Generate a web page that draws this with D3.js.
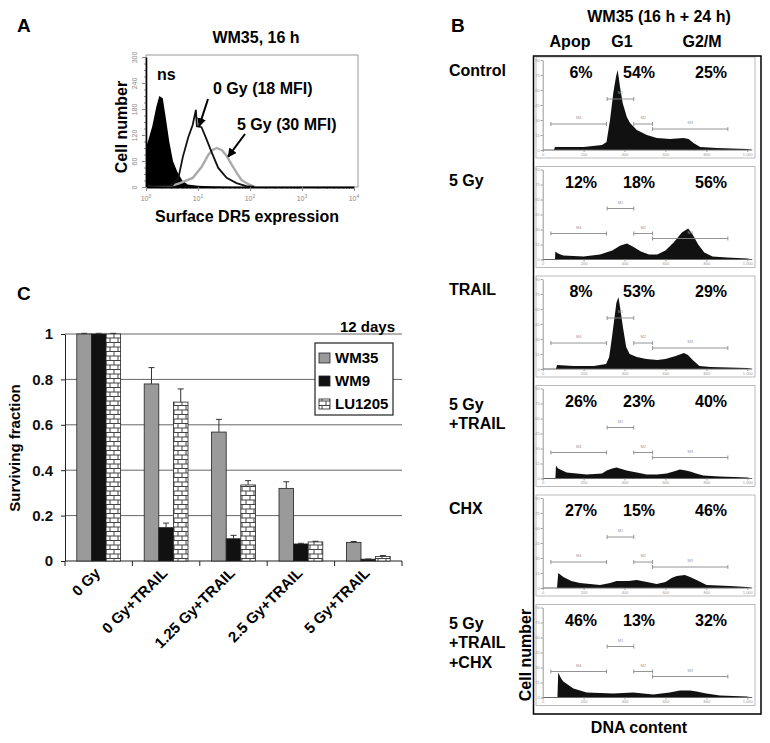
<!DOCTYPE html>
<html lang="en">
<head>
  <meta charset="UTF-8" />
  <title>WM35: DR5, cell cycle and survival</title>
  <style>
    body { margin: 0; background: #fff; }
    svg {
      display: block;
      font-family: "Liberation Sans", Arial, Helvetica, sans-serif;
      font-weight: bold;
    }
    .tiny { font-size: 4px; fill: #999; font-weight: normal; }
  </style>
  <script src="https://d3js.org/d3.v7.min.js"></script>
</head>
<body>
  <svg id="fig" width="770" height="743"></svg>

  <script>
    // ---------- Panel A: surface DR5 flow histograms [intensity, cell count] ----------
    const aTitle = "WM35, 16 h";
    const aDecades = [1, 10, 100, 1000, 10000];
    const aYTicks = [0, 60, 120, 180, 240, 300];
    const aNs = [[1, 92], [1.12, 110], [1.32, 140], [1.58, 185], [1.8, 210], [2.1, 205], [2.4, 160],
                 [2.8, 105], [3.3, 60], [4, 35], [5, 15], [6.3, 6], [10, 3], [20, 1], [40, 0]];
    const aGy0 = [[1, 2], [2, 3], [3.2, 4], [4.2, 21], [5.1, 69], [6.5, 115], [7.9, 143], [9.1, 178],
                  [9.5, 140], [11.7, 138], [14.8, 108], [18.6, 78], [24.5, 44], [35.5, 21], [55, 9],
                  [85, 2], [120, 0]];
    const aGy5 = [[1, 1], [3, 2], [4.5, 9], [7.9, 21], [11.7, 46], [15.8, 74], [18.6, 85], [22.9, 90],
                  [28.8, 85], [35.5, 72], [44.7, 51], [56, 32], [69, 16], [91, 7], [126, 0]];

    // ---------- Panel B: DNA content histograms [channel, count] ----------
    const bTitle = "WM35 (16 h + 24 h)";
    const bPhases = ["Apop", "G1", "G2/M"];
    const bSamples = [["Control"], ["5 Gy"], ["TRAIL"], ["5 Gy", "+TRAIL"], ["CHX"], ["5 Gy", "+TRAIL", "+CHX"]];
    const bApop = [6, 12, 8, 26, 27, 46];
    const bG1 = [54, 18, 53, 23, 15, 13];
    const bG2M = [25, 56, 29, 40, 46, 32];
    const bGates = [["M4", 40, 312], ["M1", 315, 445], ["M2", 445, 537], ["M3", 537, 905]];
    const bDnaTicks = [0, 200, 400, 600, 800, 1000];
    const bCountTicks = [0, 15, 30, 45, 60, 75, 90];
    const bControl = [[55, 0], [60, 3], [200, 3], [290, 5], [312, 8], [329, 30], [345, 57], [358, 73], [366, 80],
                      [372, 72], [378, 63], [391, 47], [411, 33], [427, 27], [460, 20], [509, 15], [558, 12],
                      [623, 11], [688, 12], [713, 11], [737, 7], [770, 3], [851, 2], [1000, 1], [1024, 0]];
    const b5Gy = [[60, 0], [62, 8], [75, 6], [100, 4], [200, 3], [280, 5], [340, 9], [380, 14], [412, 16],
                  [440, 13], [480, 8], [520, 5], [560, 5], [600, 9], [640, 17], [680, 27], [711, 31],
                  [730, 26], [760, 15], [790, 7], [830, 3], [900, 2], [1000, 1], [1024, 0]];
    const bTrail = [[65, 0], [70, 4], [150, 3], [250, 3], [310, 5], [325, 12], [338, 31], [350, 50], [360, 66],
                    [370, 72], [378, 62], [392, 42], [408, 22], [425, 15], [460, 12], [506, 10], [560, 9],
                    [600, 10], [650, 13], [690, 16], [710, 14], [733, 9], [766, 3], [820, 2], [1000, 1], [1024, 0]];
    const b5GyTrail = [[62, 0], [65, 13], [75, 10], [117, 6], [215, 4], [290, 5], [313, 8], [340, 10], [361, 11],
                       [410, 8], [460, 6], [508, 4], [560, 4], [606, 5], [640, 7], [671, 9], [700, 8], [720, 7],
                       [750, 5], [785, 3], [866, 2], [1000, 1], [1024, 0]];
    const bChx = [[70, 0], [76, 15], [101, 11], [140, 7], [182, 5], [280, 3], [330, 5], [361, 7], [420, 7],
                  [459, 8], [510, 6], [557, 4], [600, 6], [630, 10], [655, 12], [695, 13], [720, 11],
                  [752, 8], [801, 3], [915, 2], [1000, 1], [1024, 0]];
    const b5GyTrailChx = [[72, 0], [76, 25], [90, 19], [101, 16], [150, 9], [215, 5], [345, 4], [443, 5],
                          [540, 3], [620, 5], [671, 7], [720, 7], [752, 6], [800, 4], [866, 2], [997, 1], [1024, 0]];
    const bHists = [bControl, b5Gy, bTrail, b5GyTrail, bChx, b5GyTrailChx];

    // ---------- Panel C: clonogenic survival ----------
    const cCategories = ["0 Gy", "0 Gy+TRAIL", "1.25 Gy+TRAIL", "2.5 Gy+TRAIL", "5 Gy+TRAIL"];
    const cSeries = ["WM35", "WM9", "LU1205"];
    const cWM35 = [1, 0.78, 0.568, 0.32, 0.082];
    const cWM9 = [1, 0.147, 0.098, 0.075, 0.008];
    const cLU1205 = [1, 0.70, 0.335, 0.084, 0.020];
    const cWM35Err = [0.003, 0.072, 0.056, 0.029, 0.004];
    const cWM9Err = [0.003, 0.02, 0.015, 0.003, 0.001];
    const cLU1205Err = [0.003, 0.058, 0.019, 0.003, 0.004];
    const cYTicks = [0, 0.2, 0.4, 0.6, 0.8, 1];

    const svg = d3.select("#fig");
    svg.append("rect").attr("width", 770).attr("height", 743).attr("fill", "#fff");
    const defs = svg.append("defs");

    // brick fill for LU1205
    const brick = defs.append("pattern").attr("id", "brick")
      .attr("patternUnits", "userSpaceOnUse").attr("width", 8).attr("height", 9);
    brick.append("rect").attr("width", 8).attr("height", 9).attr("fill", "#fff");
    brick.append("path").attr("d", "M0,0.5H8M0,5H8M2,0.5V5M6,5V9")
      .attr("stroke", "#444").attr("stroke-width", 1).attr("fill", "none");

    defs.append("marker").attr("id", "arrow")
      .attr("viewBox", "0 0 10 10").attr("refX", 9).attr("refY", 5)
      .attr("markerWidth", 4.5).attr("markerHeight", 4.5).attr("orient", "auto")
      .append("path").attr("d", "M0,0L10,5L0,10z").attr("fill", "#000");

    // panel letters
    svg.append("text").attr("x", 17).attr("y", 32).attr("font-size", 19).text("A");
    svg.append("text").attr("x", 451).attr("y", 32).attr("font-size", 19).text("B");
    svg.append("text").attr("x", 17).attr("y", 300).attr("font-size", 19).text("C");

    // =================== A ===================
    const ax = d3.scaleLog().domain([1, 1e4]).range([146, 354]);
    const ay = d3.scaleLinear().domain([0, 300]).range([187, 57]);
    const gA = svg.append("g");

    gA.append("rect").attr("x", 146).attr("y", 55).attr("width", 212).attr("height", 132)
      .attr("fill", "none").attr("stroke", "#999").attr("stroke-width", 1);

    gA.append("path").datum(aNs)
      .attr("d", d3.area().x(d => ax(d[0])).y0(ay(0)).y1(d => ay(d[1])))
      .attr("fill", "#000");
    gA.append("path").datum(aGy5)
      .attr("d", d3.line().x(d => ax(d[0])).y(d => ay(d[1])))
      .attr("fill", "none").attr("stroke", "#aaa").attr("stroke-width", 2.4);
    gA.append("path").datum(aGy0)
      .attr("d", d3.line().x(d => ax(d[0])).y(d => ay(d[1])))
      .attr("fill", "none").attr("stroke", "#111").attr("stroke-width", 1.8);

    // minor ticks
    gA.append("g").attr("transform", "translate(146,0)")
      .call(d3.axisLeft(ay).tickValues(d3.range(0, 301, 15)).tickSize(2).tickSizeOuter(0).tickFormat(""))
      .call(g => g.select(".domain").remove())
      .call(g => g.selectAll("line").attr("stroke", "#888"));
    const yA = gA.append("g").attr("transform", "translate(146,0)")
      .call(d3.axisLeft(ay).tickValues(aYTicks).tickSize(4).tickSizeOuter(0));
    yA.select(".domain").attr("stroke", "#000").attr("stroke-width", 1.6);
    yA.selectAll("line").attr("stroke", "#888");
    yA.selectAll("text")
      .attr("x", 0).attr("y", 0).attr("dy", 0)
      .attr("transform", "translate(-9,0) rotate(-90)")
      .attr("text-anchor", "middle")
      .attr("font-size", 7).attr("font-weight", "normal").attr("fill", "#888");

    const minorX = [];
    aDecades.slice(0, -1).forEach(p => d3.range(2, 10).forEach(k => minorX.push(p * k)));
    gA.append("g").attr("transform", "translate(0,187)")
      .call(d3.axisBottom(ax).tickValues(minorX).tickSize(2).tickSizeOuter(0).tickFormat(""))
      .call(g => g.select(".domain").remove())
      .call(g => g.selectAll("line").attr("stroke", "#888"));
    const xA = gA.append("g").attr("transform", "translate(0,187)")
      .call(d3.axisBottom(ax).tickValues(aDecades).tickSize(4).tickSizeOuter(0).tickFormat(""));
    xA.select(".domain").attr("stroke", "#000").attr("stroke-width", 1.8);
    xA.selectAll("line").attr("stroke", "#888");
    aDecades.forEach(v => {
      const t = gA.append("text").attr("x", ax(v)).attr("y", 201).attr("text-anchor", "middle")
        .attr("font-size", 7).attr("font-weight", "normal").attr("fill", "#888").text("10");
      t.append("tspan").attr("dy", -3).attr("font-size", 5).text(Math.round(Math.log10(v)));
    });

    gA.append("text").attr("x", 256).attr("y", 43).attr("text-anchor", "middle").attr("font-size", 16).text(aTitle);
    gA.append("text").attr("x", 157).attr("y", 80).attr("font-size", 16).text("ns");
    gA.append("text").attr("x", 213).attr("y", 94).attr("font-size", 16).text("0 Gy (18 MFI)");
    gA.append("text").attr("x", 237).attr("y", 130).attr("font-size", 16).text("5 Gy (30 MFI)");
    gA.append("line").attr("x1", 208).attr("y1", 99).attr("x2", ax(10.5)).attr("y2", ay(140))
      .attr("stroke", "#000").attr("stroke-width", 2).attr("marker-end", "url(#arrow)");
    gA.append("line").attr("x1", 245).attr("y1", 134).attr("x2", ax(38)).attr("y2", ay(70))
      .attr("stroke", "#000").attr("stroke-width", 2).attr("marker-end", "url(#arrow)");
    gA.append("text").attr("transform", "translate(127,127) rotate(-90)")
      .attr("text-anchor", "middle").attr("font-size", 16).text("Cell number");
    gA.append("text").attr("x", 247).attr("y", 222).attr("text-anchor", "middle")
      .attr("font-size", 16).text("Surface DR5 expression");

    // =================== B ===================
    const gB = svg.append("g");
    const bx = d3.scaleLinear().domain([0, 1000]).range([542.7, 747.3]);
    const pctX = [581, 639, 711];
    const gateRow = { M1: 42, M4: 67, M2: 67, M3: 72 };

    gB.append("text").attr("x", 659).attr("y", 22).attr("text-anchor", "middle").attr("font-size", 16).text(bTitle);
    const phaseX = [570, 622, 702];
    bPhases.forEach((p, i) => gB.append("text").attr("x", phaseX[i]).attr("y", 47)
      .attr("text-anchor", "middle").attr("font-size", 16).text(p));

    bSamples.forEach((lines, i) => {
      const top = 57 + i * 109.5;
      const axisY = top + 93;
      const by = d3.scaleLinear().domain([0, 90]).range([axisY, axisY - 90]);
      const g = gB.append("g");

      g.append("rect").attr("x", 536).attr("y", top).attr("width", 219).attr("height", 101)
        .attr("fill", "none").attr("stroke", "#aaa").attr("stroke-width", 0.8);

      g.append("path").datum(bHists[i])
        .attr("d", d3.area().x(d => bx(d[0])).y0(axisY).y1(d => by(d[1])))
        .attr("fill", "#111");

      const xg = g.append("g").attr("transform", `translate(0,${axisY})`)
        .call(d3.axisBottom(bx).tickValues(bDnaTicks).tickSize(2).tickSizeOuter(0).tickPadding(1));
      xg.select(".domain").attr("d", `M${bx(0)},0H${bx(1024)}`).attr("stroke", "#666");
      xg.selectAll("line").attr("stroke", "#999");
      xg.selectAll("text").attr("class", "tiny").attr("font-size", null);

      const yg = g.append("g").attr("transform", `translate(${bx(0)},0)`)
        .call(d3.axisLeft(by).tickValues(bCountTicks).tickSize(2).tickSizeOuter(0).tickPadding(1));
      yg.select(".domain").attr("stroke", "#999");
      yg.selectAll("line").attr("stroke", "#999");
      yg.selectAll("text").attr("class", "tiny").attr("font-size", null);

      bGates.forEach(([name, a, b]) => {
        const gy = top + gateRow[name];
        g.append("path")
          .attr("d", `M${bx(a)},${gy - 2}V${gy + 2}M${bx(a)},${gy}H${bx(b)}M${bx(b)},${gy - 2}V${gy + 2}`)
          .attr("stroke", "#888").attr("stroke-width", 0.9).attr("fill", "none");
        g.append("text").attr("class", "tiny").attr("x", bx((a + b) / 2)).attr("y", gy - 5)
          .attr("text-anchor", "middle").text(name);
      });

      [bApop[i], bG1[i], bG2M[i]].forEach((v, k) => g.append("text")
        .attr("x", pctX[k]).attr("y", top + 21).attr("text-anchor", "middle")
        .attr("font-size", 16).text(v + "%"));

      const ly = lines.length === 1 ? top + 19 : top + 24;
      lines.forEach((ln, k) => g.append("text").attr("x", 449).attr("y", ly + k * 19.5)
        .attr("font-size", 16).text(ln));
    });

    gB.append("rect").attr("x", 533.5).attr("y", 56).attr("width", 227.5).attr("height", 658)
      .attr("fill", "none").attr("stroke", "#000").attr("stroke-width", 1.5);
    gB.append("text").attr("transform", "translate(531,655) rotate(-90)")
      .attr("text-anchor", "middle").attr("font-size", 16).text("Cell number");
    gB.append("text").attr("x", 639).attr("y", 733).attr("text-anchor", "middle")
      .attr("font-size", 16).text("DNA content");

    // =================== C ===================
    const gC = svg.append("g");
    const cx0 = d3.scaleBand().domain(cCategories).range([65, 402]).paddingInner(0.35).paddingOuter(0.175);
    const cx1 = d3.scaleBand().domain(cSeries).range([0, cx0.bandwidth()]);
    const cy = d3.scaleLinear().domain([0, 1]).range([561, 334]);
    const cValues = { WM35: cWM35, WM9: cWM9, LU1205: cLU1205 };
    const cErrors = { WM35: cWM35Err, WM9: cWM9Err, LU1205: cLU1205Err };
    const cFill = { WM35: "#9a9a9a", WM9: "#111", LU1205: "url(#brick)" };

    cYTicks.filter(t => t > 0).forEach(t => gC.append("line")
      .attr("x1", 65).attr("x2", 402).attr("y1", cy(t)).attr("y2", cy(t))
      .attr("stroke", "#666").attr("stroke-width", 1));

    const yC = gC.append("g").attr("transform", "translate(65,0)")
      .call(d3.axisLeft(cy).tickValues(cYTicks).tickSize(4).tickSizeOuter(0).tickPadding(8).tickFormat(d => String(d)));
    yC.select(".domain").attr("stroke", "#222");
    yC.selectAll("line").attr("stroke", "#222");
    yC.selectAll("text").attr("font-size", 15).attr("font-family", null).attr("fill", "#111");

    gC.append("line").attr("x1", 65).attr("x2", 402).attr("y1", cy(0)).attr("y2", cy(0))
      .attr("stroke", "#222").attr("stroke-width", 1);
    d3.range(cCategories.length + 1).forEach(k => {
      const bx0 = cx0.range()[0] + k * cx0.step();
      gC.append("line").attr("x1", bx0).attr("x2", bx0).attr("y1", cy(0)).attr("y2", cy(0) + 5)
        .attr("stroke", "#222");
    });

    cSeries.forEach(s => {
      cCategories.forEach((c, i) => {
        const v = cValues[s][i];
        const x = cx0(c) + cx1(s);
        const w = cx1.bandwidth();
        gC.append("rect").attr("x", x).attr("y", cy(v)).attr("width", w).attr("height", cy(0) - cy(v))
          .attr("fill", cFill[s]).attr("stroke", "#222").attr("stroke-width", 0.8);
        const mid = x + w / 2;
        const top = cy(v + cErrors[s][i]);
        gC.append("path").attr("d", `M${mid},${cy(v)}V${top}M${mid - 3},${top}H${mid + 3}`)
          .attr("stroke", "#333").attr("stroke-width", 1).attr("fill", "none");
      });
    });

    cCategories.forEach(c => gC.append("text")
      .attr("transform", `translate(${cx0(c) + cx0.bandwidth() / 2 + 2.5},574) rotate(-45)`)
      .attr("text-anchor", "end").attr("font-size", 15).text(c));

    // legend
    const lg = gC.append("g");
    lg.append("rect").attr("x", 315).attr("y", 343).attr("width", 78).attr("height", 72)
      .attr("fill", "#fff").attr("stroke", "#222").attr("stroke-width", 1.2);
    cSeries.forEach((s, i) => {
      const base = 363 + i * 23;
      lg.append("rect").attr("x", 319).attr("y", base - 10).attr("width", 11).attr("height", 10)
        .attr("fill", cFill[s]).attr("stroke", "#222").attr("stroke-width", 0.8);
      lg.append("text").attr("x", 335).attr("y", base).attr("font-size", 15).text(s);
    });

    gC.append("text").attr("x", 340).attr("y", 332).attr("font-size", 15).text("12 days");
    gC.append("text").attr("transform", "translate(20,448) rotate(-90)")
      .attr("text-anchor", "middle").attr("font-size", 15).text("Surviving fraction");
  </script>
</body>
</html>
